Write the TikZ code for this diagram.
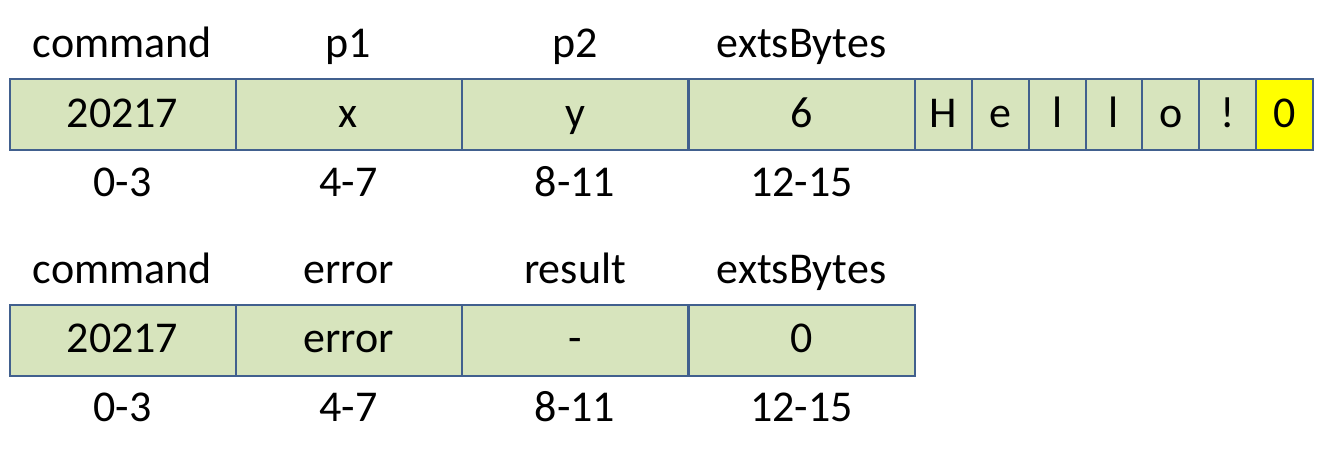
\documentclass[tikz,border=0pt]{standalone}
\usepackage{fontspec}
\setmainfont{Carlito}
\definecolor{cellfill}{HTML}{D7E4BD}
\definecolor{cellline}{HTML}{41608E}
\definecolor{nullfill}{HTML}{FFFF00}
\begin{document}
\begin{tikzpicture}[x=0.5pt,y=-0.5pt,
  every node/.style={font=\fontsize{22}{26}\selectfont, inner sep=0pt},
  field/.style={draw=cellline, fill=cellfill, line width=1pt,
    minimum width=113pt, minimum height=35.5pt,
    text height=14pt, text depth=1.5pt},
  byte/.style={field, minimum width=28.4pt},
  nullbyte/.style={byte, fill=nullfill},
  lab/.style={anchor=base}]
\useasboundingbox (0,0) rectangle (1326,449);

% request layout
\node[field] (c1) at (122.5,114.5) {20217};
\node[field] (p1) at (348.5,114.5) {x};
\node[field] (p2) at (575,114.5) {y};
\node[field] (e1) at (801.5,114.5) {6};
\foreach \ch [count=\i] in {H,e,l,l,o,!} {
  \node[byte] (b\i) at ({915+56.86*(\i-0.5)},114.5) {\ch};
}
\node[nullbyte] (b7) at ({915+56.86*6.5},114.5) {0};

\node[lab] (hc1) at (122.5,58) {command};
\node[lab] (hp1) at (348.5,58) {p1};
\node[lab] (hp2) at (575,58) {p2};
\node[lab] (he1) at (801.5,58) {extsBytes};

\node[lab] (ic1) at (122.5,196) {0-3};
\node[lab] (ip1) at (348.5,196) {4-7};
\node[lab] (ip2) at (575,196) {8-11};
\node[lab] (ie1) at (801.5,196) {12-15};

% response layout
\node[field] (c2) at (122.5,340) {20217};
\node[field] (er) at (348.5,340) {error};
\node[field] (rs) at (575,340) {-};
\node[field] (e2) at (801.5,340) {0};

\node[lab] (hc2) at (122.5,283) {command};
\node[lab] (her) at (348.5,283) {error};
\node[lab] (hrs) at (575,283) {result};
\node[lab] (he2) at (801.5,283) {extsBytes};

\node[lab] (ic2) at (122.5,421) {0-3};
\node[lab] (ier) at (348.5,421) {4-7};
\node[lab] (irs) at (575,421) {8-11};
\node[lab] (ie2) at (801.5,421) {12-15};
\end{tikzpicture}
\end{document}
